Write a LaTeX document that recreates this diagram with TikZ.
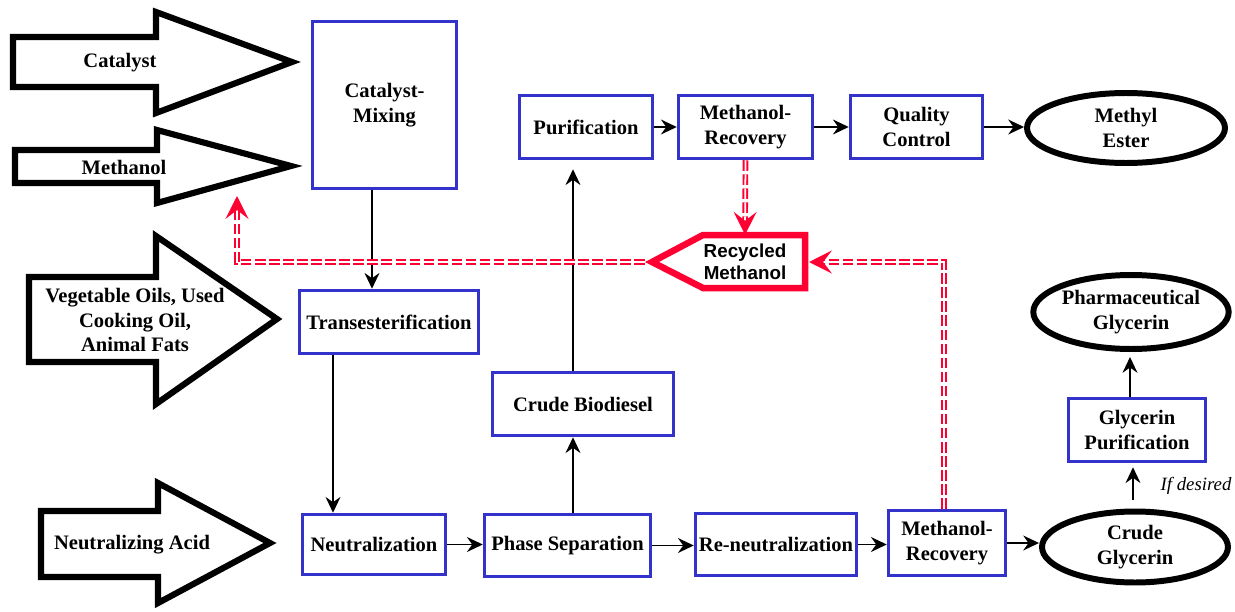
\documentclass[tikz,border=0pt]{standalone}
\usepackage{fontspec}
\setmainfont{Liberation Serif}
\newfontfamily\recyclefont{Liberation Sans}
\usepackage{xcolor}
\usetikzlibrary{arrows.meta,calc,positioning,shapes.geometric}
\definecolor{boxblue}{RGB}{51,51,204}
\definecolor{recyclered}{RGB}{255,0,51}

\begin{document}
\begin{tikzpicture}[x=0.02cm,y=-0.02cm,thick,
                    font=\fontsize{11.7}{14}\selectfont\bfseries,
                    proc node/.style={rectangle,draw=boxblue,line width=2pt,align=center,inner sep=0pt},
                    end node/.style={ellipse,draw=black,line width=3.4pt,align=center,inner sep=0pt},
                    input arrow/.style={draw=black,line width=3.5pt,line join=miter},
                    flow/.style={-{Stealth[length=9pt,width=8.5pt,inset=3pt]},line width=0.9pt},
                    recycle/.style={draw=recyclered,double=white,double distance=1pt,line width=1.1pt,
                                    dash pattern=on 6pt off 2pt,-{Stealth[length=13pt,width=13pt,inset=5pt]}}]

 \useasboundingbox (0,0) rectangle (1235,612);

%DRAWING the input arrows

 \draw[input arrow] (13,37)--(156,37)--(156,12)--(292,62)--(156,113)--(156,87)--(13,87)--cycle;
 \node (CatalystIn) at (120,63) {Catalyst};

 \draw[input arrow] (15,150)--(157,150)--(157,130)--(291,166)--(157,203)--(157,183)--(15,183)--cycle;
 \node (MethanolIn) at (124,167) {Methanol};

 \draw[input arrow] (29,277)--(156,277)--(156,236)--(277,319)--(156,404)--(156,362)--(29,362)--cycle;
 \node[align=center] (OilIn) at (135,320) {Vegetable Oils, Used\\Cooking Oil,\\Animal Fats};

 \draw[input arrow] (41,511)--(158,511)--(158,483)--(270,543)--(158,603)--(158,577)--(41,577)--cycle;
 \node (AcidIn) at (132,545) {Neutralizing Acid};

%Process steps
 \node[proc node,minimum width=2.89cm,minimum height=3.34cm] (Mixing) at (384.5,105) {Catalyst-\\Mixing};
 \node[proc node,minimum width=3.58cm,minimum height=1.26cm] (Trans) at (389,322) {Transesterification};
 \node[proc node,minimum width=2.86cm,minimum height=1.2cm] (Neut) at (374,544.5) {Neutralization};
 \node[proc node,minimum width=3.32cm,minimum height=1.24cm] (PhaseSep) at (567.5,545.5) {Phase Separation};
 \node[proc node,minimum width=3.62cm,minimum height=1.26cm] (CrudeBio) at (583,404) {Crude Biodiesel};
 \node[proc node,minimum width=2.66cm,minimum height=1.26cm] (Purif) at (586,127) {Purification};
 \node[proc node,minimum width=2.68cm,minimum height=1.26cm] (MethRecTop) at (745.5,127) {Methanol-\\Recovery};
 \node[proc node,minimum width=2.64cm,minimum height=1.26cm] (Quality) at (916.5,127) {Quality\\Control};
 \node[proc node,minimum width=3.22cm,minimum height=1.24cm] (ReNeut) at (776,544.5) {Re-neutralization};
 \node[proc node,minimum width=2.34cm,minimum height=1.3cm] (MethRecBot) at (947,543) {Methanol-\\Recovery};
 \node[proc node,minimum width=2.74cm,minimum height=1.26cm] (GlyPurif) at (1137,430) {Glycerin\\Purification};

%Products
 \node[end node,minimum width=3.96cm,minimum height=1.4cm] (MethylEster) at (1126,128) {Methyl\\Ester};
 \node[end node,minimum width=3.72cm,minimum height=1.42cm] (CrudeGly) at (1135,547) {Crude\\Glycerin};
 \node[end node,minimum width=3.74cm,minimum height=1.48cm] (PharmGly) at (1131,312) {Pharmaceutical\\Glycerin};

 \node[font=\fontsize{10.7}{12}\selectfont\mdseries\itshape] (IfDesired) at (1196,486) {If desired};

%Recycled methanol
 \draw[draw=recyclered,line width=3.7pt,fill=white] (652,262)--(703,235)--(805,235)--(805,288)--(703,288)--cycle;
 \node[font=\fontsize{10.7}{12.5}\selectfont\recyclefont\bfseries,align=center,minimum height=1.06cm,inner sep=0pt] (Recycled) at (745,262) {Recycled\\Methanol};
 \coordinate (RecycledTip) at (645,262);
 \coordinate (RecycledIn) at (809,262);
 \coordinate (MixingReturn) at (237,196);

%Flow connectors
 \draw[flow] ([xshift=-0.25cm]Mixing.south) -- ([xshift=-0.25cm]Mixing.south |- Trans.north);
 \draw[flow] ([xshift=-1.12cm]Trans.south) -- ([xshift=-1.12cm]Trans.south |- Neut.north);
 \draw[flow] (Neut.east) -- (Neut.east -| PhaseSep.west);
 \draw[flow] (PhaseSep.east) -- (PhaseSep.east -| ReNeut.west);
 \draw[flow] (ReNeut.east) -- (ReNeut.east -| MethRecBot.west);
 \draw[flow] (MethRecBot.east) -- (MethRecBot.east -| CrudeGly.west);
 \draw[flow] ([xshift=0.11cm]PhaseSep.north) -- ([xshift=0.11cm]PhaseSep.north |- CrudeBio.south);
 \draw[flow] ([xshift=-0.2cm]CrudeBio.north) -- ([xshift=-0.2cm,yshift=-0.18cm]CrudeBio.north |- Purif.south);
 \draw[flow] (Purif.east) -- (Purif.east -| MethRecTop.west);
 \draw[flow] (MethRecTop.east) -- (MethRecTop.east -| Quality.west);
 \draw[flow] (Quality.east) -- (Quality.east -| MethylEster.west);
 \draw[flow] ([xshift=-0.04cm,yshift=0.18cm]CrudeGly.north) -- ([xshift=-0.04cm,yshift=-0.08cm]CrudeGly.north |- GlyPurif.south);
 \draw[flow] ([xshift=-0.14cm]GlyPurif.north) -- ([xshift=-0.14cm,yshift=-0.1cm]GlyPurif.north |- PharmGly.south);

%Methanol return lines
 \draw[recycle] (MethRecTop.south) -- (Recycled.north);
 \draw[recycle] ([xshift=-0.06cm]MethRecBot.north) |- (RecycledIn);
 \draw[recycle] (RecycledTip) -| (MixingReturn);

\end{tikzpicture}
\end{document}
